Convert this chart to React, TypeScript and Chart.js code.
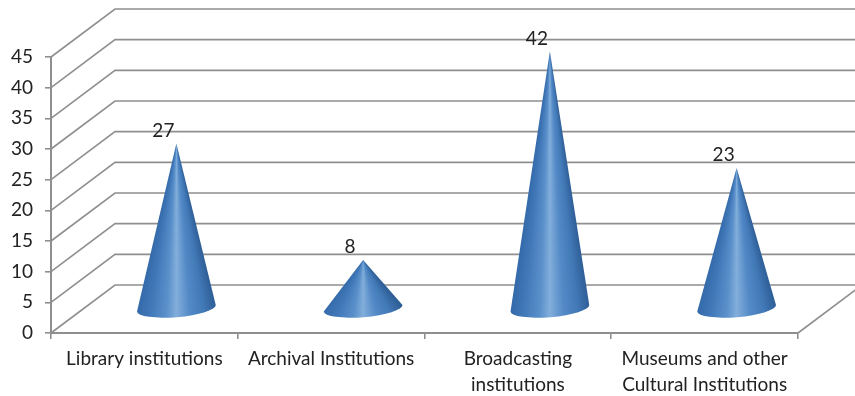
import React, { useEffect, useRef } from "react";
import { Chart, registerables } from "chart.js";

Chart.register(...registerables);

const categories = [
  "Library institutions",
  "Archival Institutions",
  ["Broadcasting", "institutions"],
  ["Museums and other", "Cultural Institutions"],
];
const counts = [27, 8, 42, 23];
const yTicks = { min: 0, max: 45, step: 5 };

const FONT = "Lato, Carlito, sans-serif";
const GRID = "#8f8f8f";
const TEXT = "#222222";
const DEPTH_X = 64;
const DEPTH_Y = 48;
const CONE_RX = 39.5;
const CONE_RY = 9;
const CONE_TILT = -0.083;

// Floor, side wall and back wall of the pseudo-3D plot box.
const wallsPlugin = {
  id: "walls",
  beforeDatasetsDraw(chart: any) {
    const { ctx, scales, chartArea, width } = chart;
    const y = scales.y;
    ctx.save();
    ctx.strokeStyle = GRID;
    ctx.lineWidth = 1.6;
    y.ticks.forEach((t: any) => {
      const py = y.getPixelForValue(t.value);
      ctx.beginPath();
      ctx.moveTo(chartArea.left, py);
      ctx.lineTo(chartArea.left + DEPTH_X, py - DEPTH_Y);
      ctx.lineTo(width, py - DEPTH_Y);
      ctx.stroke();
    });
    ctx.beginPath();
    ctx.moveTo(chartArea.right, chartArea.bottom);
    ctx.lineTo(chartArea.right + DEPTH_X, chartArea.bottom - DEPTH_Y);
    ctx.stroke();
    ctx.restore();
  },
};

// Renders each bar as a shaded cone standing mid-way across the floor.
const conesPlugin = {
  id: "cones",
  afterDatasetsDraw(chart: any) {
    const { ctx } = chart;
    const meta = chart.getDatasetMeta(0);
    const values = chart.data.datasets[0].data;
    meta.data.forEach((bar: any, i: number) => {
      const cx = bar.x + DEPTH_X / 2;
      const apexY = bar.y - DEPTH_Y / 2;
      const baseY = bar.base - DEPTH_Y / 2;
      const h = baseY - apexY;
      const spread = Math.atan2(CONE_RX, h);
      const start = Math.PI / 2 - spread * 1.25;
      const sweep = spread * 2.5;
      const g = ctx.createConicGradient(start, cx, apexY);
      const at = (u: number) => (sweep * u) / (Math.PI * 2);
      // Conic angles run clockwise, so stops go from the right flank to the left.
      g.addColorStop(0, "#2c5a8f");
      g.addColorStop(at(0.1), "#2f5f98");
      g.addColorStop(at(0.22), "#4178b6");
      g.addColorStop(at(0.36), "#5289c6");
      g.addColorStop(at(0.5), "#82aedb");
      g.addColorStop(at(0.6), "#5a90ca");
      g.addColorStop(at(0.76), "#4178b8");
      g.addColorStop(at(0.9), "#3369a8");
      g.addColorStop(at(1), "#2d609c");
      g.addColorStop(1, "#2c5a8f");

      ctx.save();
      ctx.beginPath();
      ctx.moveTo(cx, apexY);
      ctx.ellipse(cx, baseY, CONE_RX, CONE_RY, CONE_TILT, 0, Math.PI);
      ctx.closePath();
      ctx.fillStyle = g;
      ctx.fill();
      ctx.fillStyle = TEXT;
      ctx.font = `19px ${FONT}`;
      ctx.textAlign = "center";
      ctx.textBaseline = "middle";
      ctx.fillText(String(values[i]), cx - 13, apexY - 13);
      ctx.restore();
    });
  },
};

export default function App() {
  const ref = useRef<HTMLCanvasElement | null>(null);

  useEffect(() => {
    document.body.style.margin = "0";
    document.body.style.background = "#ffffff";
    const chart = new Chart(ref.current as HTMLCanvasElement, {
      type: "bar",
      data: {
        labels: categories as any,
        datasets: [
          {
            data: counts,
            backgroundColor: "rgba(0,0,0,0)",
            borderWidth: 0,
          },
        ],
      },
      options: {
        responsive: false,
        animation: false,
        layout: { padding: { top: 57, right: 57, left: 0, bottom: 0 } },
        plugins: { legend: { display: false }, tooltip: { enabled: false } },
        scales: {
          x: {
            afterFit(s: any) {
              s.height = 63;
            },
            grid: {
              drawOnChartArea: false,
              drawTicks: true,
              tickLength: 6,
              color: GRID,
              lineWidth: 1.6,
            },
            border: { color: GRID, width: 2 },
            ticks: {
              color: TEXT,
              font: { family: FONT, size: 19, lineHeight: 1.37 },
              maxRotation: 0,
              autoSkip: false,
              padding: 7,
            },
          },
          y: {
            min: yTicks.min,
            max: yTicks.max,
            afterFit(s: any) {
              s.width = 51;
            },
            grid: {
              drawOnChartArea: false,
              drawTicks: true,
              tickLength: 6,
              color: GRID,
              lineWidth: 1.6,
            },
            border: { color: GRID, width: 2 },
            ticks: {
              stepSize: yTicks.step,
              color: TEXT,
              font: { family: FONT, size: 19 },
              padding: 12,
            },
          },
        },
      },
      plugins: [wallsPlugin, conesPlugin],
    } as any);
    return () => chart.destroy();
  }, []);

  return (
    <canvas
      ref={ref}
      width={855}
      height={396}
      style={{ display: "block", width: 855, height: 396 }}
    />
  );
}
